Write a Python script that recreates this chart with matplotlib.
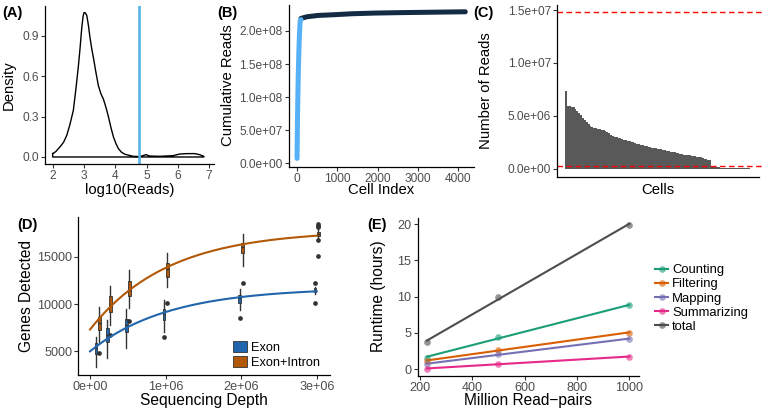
import numpy as np
import matplotlib
matplotlib.use("Agg")
import matplotlib.pyplot as plt
from matplotlib.lines import Line2D
from matplotlib.patches import Patch

plt.rcParams['font.family'] = ['Liberation Sans', 'DejaVu Sans']

# ---------------- data ----------------
# (A) density of log10(reads)
dens_x = [2.0, 2.1, 2.23, 2.35, 2.45, 2.55, 2.66, 2.74, 2.82, 2.88, 2.93, 2.97, 3.0, 3.04,
          3.09, 3.14, 3.19, 3.25, 3.30, 3.38, 3.46, 3.54, 3.62, 3.70, 3.78, 3.86, 3.94,
          4.02, 4.10, 4.2, 4.31, 4.57, 4.79, 4.98, 5.10, 5.43, 5.85, 6.06, 6.28, 6.54,
          6.70, 6.83]
dens_y = [0.025, 0.04, 0.074, 0.11, 0.16, 0.24, 0.345, 0.5, 0.67, 0.82, 0.96, 1.04, 1.07,
          1.07, 1.05, 0.98, 0.89, 0.80, 0.74, 0.63, 0.53, 0.47, 0.43, 0.37, 0.30, 0.22,
          0.15, 0.10, 0.062, 0.035, 0.02, 0.005, 0.003, 0.017, 0.007, 0.005, 0.01, 0.022,
          0.025, 0.025, 0.017, 0.005]
threshold_log10 = 4.77

# (C) reads of top cells (millions), sorted
cell_reads_m = [7.4,
                5.95, 5.9, 5.85, 5.8, 5.65,
                5.45, 5.25, 5.05, 4.85, 4.6, 4.4, 4.2,
                4.05, 3.95, 3.9, 3.85, 3.8, 3.75, 3.7, 3.65, 3.55, 3.45,
                3.35, 3.25, 3.15, 3.05, 3.0, 2.95, 2.9, 2.85,
                2.75, 2.7, 2.65, 2.6, 2.55, 2.5, 2.45, 2.4, 2.35, 2.3, 2.25,
                2.2, 2.15, 2.1, 2.05, 2.0, 1.97, 1.94, 1.91, 1.88, 1.85, 1.8,
                1.76, 1.72, 1.68, 1.64, 1.6, 1.56, 1.52, 1.48, 1.44, 1.4, 1.36,
                1.32, 1.3, 1.28, 1.25, 1.22, 1.2, 1.17, 1.14, 1.1, 1.05, 0.98, 0.92, 0.86, 0.8,
                0.15, 0.15, 0.14, 0.14, 0.14, 0.13, 0.13, 0.13, 0.12, 0.12, 0.12, 0.12,
                0.11, 0.11, 0.11, 0.1, 0.1, 0.1, 0.09, 0.09, 0.08]
reads_upper = 1.478e7
reads_lower = 2.8e5

# (B) cumulative reads for the remaining cells
rest_idx = [100, 250, 530, 900, 1360, 1900, 2560, 3300, 4180]
rest_cum = [2.19e8, 2.215e8, 2.235e8, 2.245e8, 2.26e8, 2.27e8, 2.277e8, 2.283e8, 2.29e8]

# (D) genes detected boxplot stats
depths = [1e5, 2.5e5, 5e5, 1e6, 2e6, 3e6]
exon_med = [5320, 6725, 7780, 8940, 10600, 11480]
exon_q1 = [4715, 6015, 7075, 8310, 10075, 11300]
exon_q3 = [5845, 7430, 8380, 9440, 10950, 11660]
exon_lo = [3310, 4260, 5317, 7075, 9370, 11060]
exon_hi = [6545, 8310, 9440, 10420, 11555, 11830]
exon_out = [[], [], [], [6545], [8550], [12250, 10070]]
intron_med = [7960, 9895, 11480, 13700, 16060, 17400]
intron_q1 = [7250, 9185, 10845, 12890, 15360, 17190]
intron_q3 = [8660, 10845, 12430, 14300, 16415, 17640]
intron_lo = [6015, 7780, 9545, 11765, 14020, 16940]
intron_hi = [9650, 11900, 13590, 15360, 17400, 17950]
intron_out = [[4790], [6725], [8200], [10140], [12250], [18450, 18280, 18100, 16760, 15100]]

# (E) runtime
read_pairs = [228, 500, 1000]
runtime = {
    'Counting': [1.6, 4.45, 8.8],
    'Filtering': [1.14, 2.7, 5.04],
    'Mapping': [0.73, 2.06, 4.2],
    'Summarizing': [0.09, 0.73, 1.74],
    'total': [3.72, 10.0, 19.9],
}
runtime_colors = {'Counting': '#1B9E77', 'Filtering': '#D95F02', 'Mapping': '#7570B3',
                  'Summarizing': '#E7298A', 'total': '#4D4D4D'}

# ---------------- figure ----------------
W, H = 764, 413
fig = plt.figure(figsize=(W / 100, H / 100), dpi=100)

TICK_C = '#4D4D4D'


def add_ax(l, r, t, b, tick_fs=8.6):
    ax = fig.add_axes([l / W, 1 - b / H, (r - l) / W, (b - t) / H])
    ax._px = (l, r, t, b)
    for s in ('top', 'right'):
        ax.spines[s].set_visible(False)
    for s in ('left', 'bottom'):
        ax.spines[s].set_linewidth(0.9)
        ax.spines[s].set_color('black')
    ax.tick_params(direction='out', length=2.6, width=0.8, color='#333333',
                   labelsize=tick_fs, labelcolor=TICK_C, pad=1.8)
    return ax


def xlab(ax, text, py, fs=10.7):
    l, r, t, b = ax._px
    ax.set_xlabel(text, fontsize=fs, color='black')
    ax.xaxis.label.set_va('center')
    ax.xaxis.set_label_coords(0.5, (b - py) / (b - t))


def ylab(ax, text, px, fs=10.7):
    l, r, t, b = ax._px
    ax.set_ylabel(text, fontsize=fs, color='black')
    ax.yaxis.label.set_va('center')
    ax.yaxis.set_label_coords((px - l) / (r - l), 0.5)


def panel(label, px, py):
    fig.text(px / W, 1 - py / H, label, fontsize=10.5, fontweight='bold',
             ha='left', va='center')


# ---- (A)
axA = add_ax(45, 213.7, 6, 164.2)
xs = list(dens_x) + [dens_x[-1], dens_x[0], dens_x[0]]
ys = list(dens_y) + [0, 0, dens_y[0]]
axA.plot(xs, ys, color='black', lw=1.0)
axA.axvline(threshold_log10, color='#56B4E9', lw=1.9)
axA.set_xlim(1.755, 7.145)
axA.set_ylim(-0.0535, 1.12)
axA.set_xticks([2, 3, 4, 5, 6, 7])
axA.set_yticks([0.0, 0.3, 0.6, 0.9])
axA.set_yticklabels(['0.0', '0.3', '0.6', '0.9'])
xlab(axA, 'log10(Reads)', 190)
ylab(axA, 'Density', 9)
panel('(A)', 2, 13)

# ---- (B)
axB = add_ax(288.6, 473.7, 4.5, 166.6)
cell_reads = np.array(cell_reads_m) * 1e6
top_idx = np.arange(1, len(cell_reads) + 1)
top_cum = np.cumsum(cell_reads)
axB.plot(rest_idx, rest_cum, color='#132B43', lw=3.6, solid_capstyle='round',
         solid_joinstyle='round')
axB.plot(top_idx, top_cum, color='#56B1F7', lw=3.6, solid_capstyle='round',
         solid_joinstyle='round')
axB.set_xlim(-209, 4389)
axB.set_ylim(-0.5e7, 2.4e8)
axB.set_xticks([0, 1000, 2000, 3000, 4000])
axB.set_yticks([0, 5e7, 1e8, 1.5e8, 2e8])
axB.set_yticklabels(['0.0e+00', '5.0e+07', '1.0e+08', '1.5e+08', '2.0e+08'])
xlab(axB, 'Cell Index', 190.5)
ylab(axB, 'Cumulative Reads', 228)
panel('(B)', 217, 13)

# ---- (C)  contiguous bars drawn as one filled step outline
axC = add_ax(557, 758.6, 4.5, 176.8)
bar_edges = np.concatenate([top_idx - 0.5, [top_idx[-1] + 0.5]])
axC.stairs(cell_reads, bar_edges, fill=True, color='#595959', baseline=0)
axC.set_xlim(-3.9, 103.9)
axC.set_ylim(-0.74e6, 1.552e7)
for yv in (reads_upper, reads_lower):
    axC.axhline(yv, color='red', lw=1.0, ls=(0, (4, 2.5)), xmin=0, xmax=1.03,
                clip_on=False)
axC.set_xticks([])
axC.set_yticks([0, 5e6, 1e7, 1.5e7])
axC.set_yticklabels(['0.0e+00', '5.0e+06', '1.0e+07', '1.5e+07'])
xlab(axC, 'Cells', 190)
ylab(axC, 'Number of Reads', 486)
panel('(C)', 473, 13)

# ---- (D)
BT = 9.1    # bottom row tick size
BTT = 11.2  # bottom row title size
axD = add_ax(78.3, 329.9, 216.7, 375, tick_fs=BT)
exon_color = '#2166AC'
intron_color = '#B35806'
dodge = 0.021e6
bw = 0.036e6


def make_stats(med, q1, q3, lo, hi, out):
    return [dict(med=m, q1=a, q3=b, whislo=c, whishi=d, fliers=f)
            for m, a, b, c, d, f in zip(med, q1, q3, lo, hi, out)]


for stats, col, off in ((make_stats(exon_med, exon_q1, exon_q3, exon_lo, exon_hi, exon_out),
                         exon_color, -dodge),
                        (make_stats(intron_med, intron_q1, intron_q3, intron_lo, intron_hi,
                                    intron_out), intron_color, dodge)):
    axD.bxp(stats, positions=[d + off for d in depths], widths=bw, patch_artist=True,
            showcaps=False, manage_ticks=False,
            boxprops=dict(facecolor=col, edgecolor='#333333', linewidth=0.6),
            whiskerprops=dict(color='#333333', linewidth=1.0),
            medianprops=dict(color='#333333', linewidth=1.0),
            flierprops=dict(marker='o', markersize=3.4, markerfacecolor='#333333',
                            markeredgecolor='none'))


def fit_saturation(x, y):
    x = np.asarray(x)
    y = np.asarray(y, dtype=float)
    best = None
    for c in np.linspace(0.05, 5, 1000):
        A = np.column_stack([np.ones_like(x), -np.exp(-c * x)])
        coef = np.linalg.lstsq(A, y, rcond=None)[0]
        err = np.sum((A @ coef - y) ** 2)
        if best is None or err < best[0]:
            best = (err, coef[0], coef[1], c)
    return best[1:]


xm = np.array(depths) / 1e6
grid = np.linspace(0, 3, 200)
for med, col in ((exon_med, exon_color), (intron_med, intron_color)):
    a, b, c = fit_saturation(xm, med)
    axD.plot(grid * 1e6, a - b * np.exp(-c * grid), color=col, lw=1.5, zorder=5)

axD.set_xlim(-0.155e6, 3.175e6)
axD.set_ylim(2495, 19228)
axD.set_xticks([0, 1e6, 2e6, 3e6])
axD.set_xticklabels(['0e+00', '1e+06', '2e+06', '3e+06'])
axD.set_yticks([5000, 10000, 15000])
xlab(axD, 'Sequencing Depth', 400, fs=BTT)
ylab(axD, 'Genes Detected', 27, fs=BTT)
panel('(D)', 17, 225)
legD = axD.legend([Patch(facecolor=exon_color, edgecolor='#333333', lw=0.6),
                   Patch(facecolor=intron_color, edgecolor='#333333', lw=0.6)],
                  ['Exon', 'Exon+Intron'], loc='lower right',
                  bbox_to_anchor=(320 / W, 1 - 369 / H), bbox_transform=fig.transFigure,
                  frameon=False, fontsize=9.2, handlelength=1.1, handleheight=0.9,
                  handletextpad=0.3, labelspacing=0.2, borderpad=0, borderaxespad=0)

# ---- (E)
axE = add_ax(417.5, 639.4, 217.5, 375.8, tick_fs=BT)
handles = []
for name, vals in runtime.items():
    col = runtime_colors[name]
    slope, icpt = np.polyfit(read_pairs, vals, 1)
    xx = np.array([min(read_pairs), max(read_pairs)])
    axE.plot(xx, slope * xx + icpt, color=col, lw=1.5, zorder=3)
    axE.plot(read_pairs, vals, 'o', color=col, alpha=0.6, markersize=4.8,
             markeredgewidth=0, zorder=4)
    handles.append((Line2D([], [], color=col, lw=1.5),
                    Line2D([], [], marker='o', ls='none', color=col, alpha=0.6,
                           markersize=4.8, markeredgewidth=0)))
axE.set_xlim(191.5, 1038.5)
axE.set_ylim(-0.9, 20.9)
axE.set_xticks([200, 400, 600, 800, 1000])
axE.set_yticks([0, 5, 10, 15, 20])
xlab(axE, 'Million Read\u2212pairs', 400, fs=BTT)
ylab(axE, 'Runtime (hours)', 379, fs=BTT)
panel('(E)', 367, 225)
fig.legend(handles, list(runtime.keys()), loc='center left',
           bbox_to_anchor=(655 / W, 1 - 298.5 / H), frameon=False, fontsize=9.4,
           handlelength=1.0, handletextpad=0.3, labelspacing=0.16, borderpad=0,
           borderaxespad=0)

fig.savefig('out.png', dpi=100)
